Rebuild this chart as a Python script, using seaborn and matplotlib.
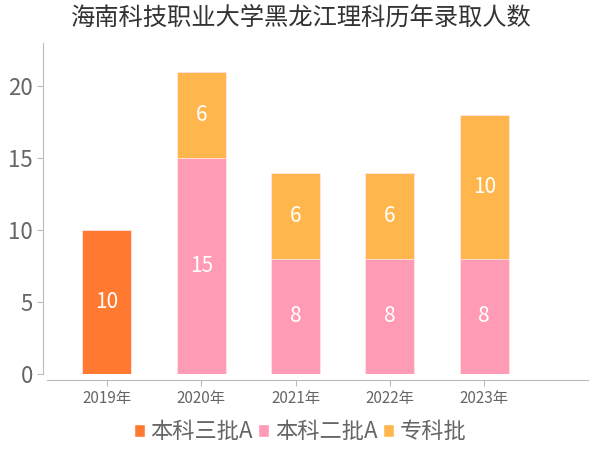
import matplotlib
matplotlib.use("Agg")
import matplotlib.pyplot as plt
import seaborn as sns
import pandas as pd
import numpy as np
from matplotlib.patches import Patch

# 数据
years = ["2019年", "2020年", "2021年", "2022年", "2023年"]
ben3a = [10, 0, 0, 0, 0]     # 本科三批A
ben2a = [0, 15, 8, 8, 8]     # 本科二批A
zhuanke = [0, 6, 6, 6, 10]   # 专科批
series_names = ["本科三批A", "本科二批A", "专科批"]
colors = ["#FF7A30", "#FF9BB5", "#FFB74D"]

sns.set_style("white")
plt.rcParams['font.family'] = ['Noto Sans CJK SC', 'DejaVu Sans']
plt.rcParams['axes.unicode_minus'] = False

df = pd.DataFrame({"year": years, "s1": ben3a, "s2": ben2a, "s3": zhuanke})
df["c1"] = df["s1"]
df["c2"] = df["c1"] + df["s2"]
df["c3"] = df["c2"] + df["s3"]

fig = plt.figure(figsize=(6, 4.5), dpi=100)
ax = fig.add_axes([0.072, 0.169, 0.908, 0.735])

# 叠加法绘制堆叠柱状图（先画总高度）
for col, color in zip(["c3", "c2", "c1"], colors[::-1]):
    sns.barplot(data=df, x="year", y=col, color=color, width=0.52,
                saturation=1, edgecolor="#FFE5E5", linewidth=0.6, ax=ax)

# 数值标签
for i in range(len(years)):
    bottom = 0
    for vals in [ben3a, ben2a, zhuanke]:
        v = vals[i]
        if v > 0:
            ax.text(i, bottom + v / 2, str(v), ha='center', va='center',
                    color='white', fontsize=15)
        bottom += v

ax.set_xlim(-0.675, 5.1)
ax.set_ylim(0, 23)
ax.set_yticks([0, 5, 10, 15, 20])
ax.set_xlabel("")
ax.set_ylabel("")

for s in ["top", "right"]:
    ax.spines[s].set_visible(False)
ax.spines["left"].set_color("#BBBBBB")
ax.spines["bottom"].set_color("#BBBBBB")
ax.spines["bottom"].set_position(("outward", 4))
ax.spines["bottom"].set_bounds(-0.635, 5.1)
ax.tick_params(axis='y', labelsize=16, colors="#BBBBBB", labelcolor="#666666",
               length=4, width=0.8, left=True)
ax.tick_params(axis='x', labelsize=11, colors="#BBBBBB", labelcolor="#666666",
               length=4, width=0.8, bottom=True)

handles = [Patch(facecolor=c, label=n) for c, n in zip(colors, series_names)]
fig.legend(handles=handles, loc='center', bbox_to_anchor=(0.5, 0.04), ncol=3,
           frameon=False, fontsize=16, handlelength=0.5, handleheight=0.5,
           handletextpad=0.25, columnspacing=0.25, labelcolor="#666666")

fig.suptitle("海南科技职业大学黑龙江理科历年录取人数", fontsize=17.5, color="#333333",
             y=0.99, va='top')

plt.savefig("out.png", dpi=100)
plt.close()
